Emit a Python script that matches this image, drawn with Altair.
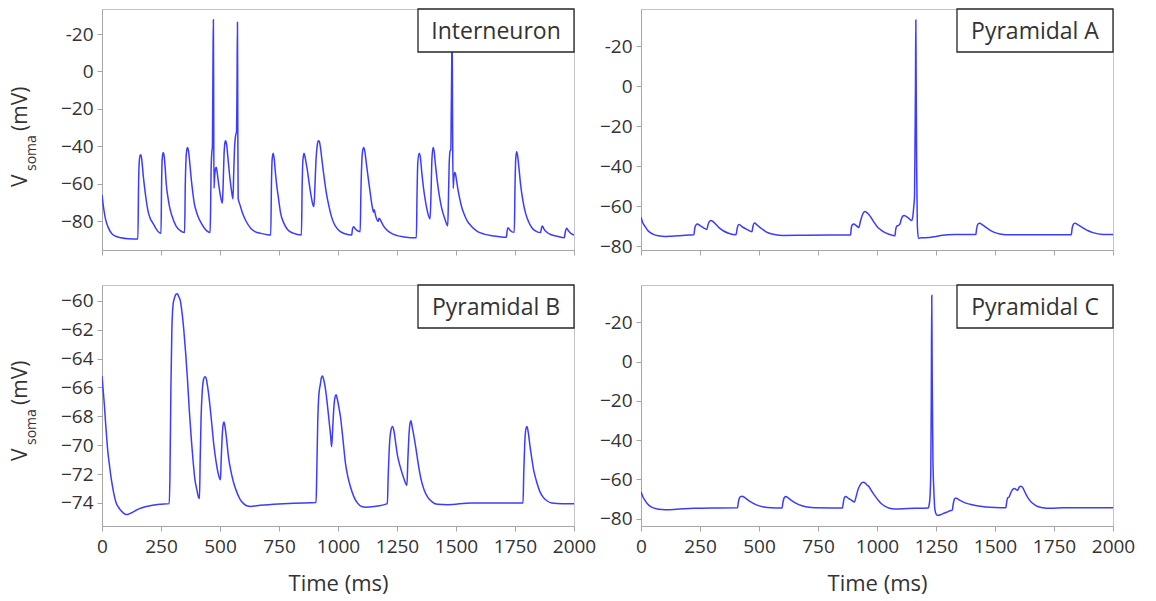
import altair as alt
import pandas as pd

FONT = "Open Sans"
TXT = "#333333"
LINE = "#3c3cff"
AX = "#a6a6a6"

time_ticks = [0, 250, 500, 750, 1000, 1250, 1500, 1750, 2000]
ticks_wide = [-80, -60, -40, -20, 0, 20]
ticks_b = [-74, -72, -70, -68, -66, -64, -62, -60]

panel_names = ["Interneuron", "Pyramidal A", "Pyramidal B", "Pyramidal C"]

inter_pts = [
    (0, -66), (8, -74), (15, -79), (25, -83), (40, -86.5), (55, -88), (80, -89), (110, -89.5), (152, -89.6),
    (155, -60), (158, -48), (162, -44.8), (165, -44.6), (170, -49), (175, -56), (180, -61.6), (187, -68.5),
    (194, -74), (204, -78.5), (215, -81), (226, -83.5), (236, -85.4), (250, -86.6),
    (252.5, -60), (255, -47), (259, -43.4), (263, -45), (268, -52), (272, -59.8), (279, -67), (286, -72.3),
    (297, -77.5), (314, -82.7), (330, -85), (350, -86.2),
    (353, -60), (356, -47), (360, -41.5), (363, -40.7), (367, -43), (372, -49), (377, -56), (384, -64),
    (391, -70.5), (400, -75), (410, -78.5), (420, -81), (435, -84), (458, -86.2),
    (460, -75), (462, -55), (465, -43.8), (468, -40), (470.5, 10), (472, 27.7), (473.3, -20), (474.5, -62.5),
    (477, -57), (480, -52.5), (484, -51.2), (488, -54), (494, -60), (502, -66.5), (510, -70.5), (513, -62),
    (517, -45), (521, -38), (524, -37), (528, -39), (535, -48), (542, -57), (549, -64), (555, -68.2),
    (558, -55), (562, -40), (566, -34.5), (570, -32), (572, -10), (574, 26.3), (575.5, -30), (577, -67.9),
    (585, -71.5), (596, -76), (610, -80), (631, -84), (650, -85.8), (673, -86.6), (700, -87.3), (715, -87.5),
    (718, -60), (721, -47), (725, -43.8), (729, -46), (734, -53), (740, -60.5), (748, -68), (757, -75.9),
    (770, -81), (786, -84.5), (810, -86.5), (845, -87.5),
    (848, -62), (851, -48), (856, -43.8), (860, -45.5), (865, -49), (870, -52.7), (878, -60), (886, -66.5),
    (892, -70.5), (898, -72.3), (902, -62), (907, -47), (912, -39.5), (917, -37), (921, -37.5), (926, -41),
    (933, -48.5), (940, -55.5), (950, -64.5), (962, -72.3), (972, -77.5), (983, -81.3), (995, -83.8),
    (1010, -85.7), (1030, -86.8), (1058, -87.5),
    (1061, -84.5), (1066, -83), (1072, -84), (1080, -85), (1094, -85.7),
    (1097, -65), (1101, -48), (1105, -42), (1109, -40.7), (1114, -43), (1120, -49), (1127, -56), (1135, -63.5),
    (1142, -70), (1147, -73.5), (1150, -75.3), (1153, -74), (1160, -77.5), (1170, -80.2), (1174, -78.5),
    (1180, -79.5), (1190, -82), (1205, -84.5), (1225, -86.5), (1250, -87.8), (1280, -88.5), (1332, -89),
    (1335, -65), (1338, -49), (1344, -43.8), (1349, -46), (1355, -54), (1362, -62), (1370, -69), (1380, -75.5),
    (1390, -78.9), (1394, -66), (1398, -47), (1403, -40.7), (1407, -42.5), (1413, -50), (1420, -58), (1430, -67),
    (1440, -73.5), (1452, -78.5), (1465, -82.5), (1468, -68), (1471, -50), (1475, -42.5), (1478, -42),
    (1480, -20), (1482, 5), (1483, 26), (1484.5, 0), (1486, -40), (1488, -62.5), (1491, -57), (1494, -54),
    (1497, -54.5), (1502, -58), (1508, -63), (1514, -67), (1524, -72.5), (1535, -76.5), (1548, -80),
    (1563, -82.5), (1590, -85.5), (1619, -87), (1660, -88), (1713, -88.7),
    (1717, -85), (1721, -83.6), (1728, -84.8), (1737, -85.8), (1747, -86),
    (1750, -62), (1753, -47), (1757, -42.9), (1761, -45), (1767, -52), (1774, -60.8), (1784, -69.5),
    (1795, -75.9), (1808, -80.5), (1824, -84), (1840, -85.5), (1858, -86.2),
    (1862, -84), (1866, -82.7), (1873, -84.3), (1885, -86), (1901, -87.2), (1930, -88.2), (1959, -88.9),
    (1963, -86), (1969, -83.9), (1976, -85.2), (1988, -86.7), (2000, -87.5),
]

pyr_a_pts = [
    (0, -65.6), (8, -68.5), (17, -70.2), (27, -72), (38, -73.2), (55, -74.3), (74, -74.9), (102, -75.3),
    (130, -75.1), (159, -74.9), (190, -74.6), (224, -74.4),
    (228, -71), (233, -69.5), (239, -69), (250, -69.8), (265, -70.9), (279, -71.7), (285, -69), (291, -67.6),
    (297, -67.3), (305, -67.8), (318, -69.3), (329, -70.7), (350, -72.5), (371, -73.6), (402, -74.4),
    (408, -71), (412, -69.5), (416, -69.3), (430, -70.5), (450, -71.8), (470, -72.9), (474, -70.5),
    (478, -68.8), (482, -68.5), (490, -69.3), (500, -70.3), (513, -71.5), (530, -72.9), (555, -74),
    (598, -74.7), (700, -74.6), (888, -74.5),
    (891, -71), (896, -69.3), (902, -69), (912, -69.8), (923, -70.7), (930, -67.5), (938, -64.5), (945, -63),
    (949, -62.7), (957, -63.3), (966, -64.4), (976, -66), (987, -68.1), (1000, -70.2), (1016, -71.9),
    (1032, -73.2), (1051, -74.1), (1076, -74.9),
    (1079, -72), (1083, -70.2), (1089, -69.8), (1096, -69.3), (1102, -67), (1108, -65.2), (1115, -64.7),
    (1125, -65.3), (1136, -66.3), (1147, -67.3), (1152, -65), (1156, -60), (1159, -55), (1161, -30),
    (1163, 0), (1164.5, 33), (1166, 0), (1168, -40), (1171, -70), (1176, -76.3), (1186, -75.9),
    (1221, -75.8), (1250, -75.2), (1278, -74.6), (1330, -74.3), (1419, -74.2),
    (1422, -71.5), (1427, -69.2), (1432, -68.7), (1436, -68.6), (1445, -69.3), (1462, -70.7), (1480, -72.2),
    (1497, -73.2), (1520, -74), (1547, -74.4), (1823, -74.4),
    (1827, -71), (1832, -69.2), (1836, -68.7), (1840, -68.6), (1850, -69.3), (1873, -70.9), (1895, -72.4),
    (1915, -73.3), (1958, -74.2), (2000, -74.3),
]

pyr_b_pts = [
    (0, -65.2), (5, -66.2), (10, -67.2), (15, -68.4), (20, -69.5), (25, -70.5), (31, -71.3), (38, -72.2),
    (45, -72.9), (52, -73.5), (60, -74), (70, -74.3), (81, -74.55), (92, -74.72), (102, -74.8), (112, -74.78),
    (123, -74.7), (140, -74.55), (159, -74.4), (180, -74.28), (202, -74.2), (244, -74.1), (285, -74.05),
    (288, -72), (292, -66), (296, -62), (301, -60.3), (307, -59.8), (313, -59.55), (319, -59.5), (325, -59.7),
    (332, -60), (339, -60.8), (346, -61.9), (354, -63.5), (362, -65.4), (370, -67.6), (379, -69.7),
    (386, -71.1), (393, -72.3), (402, -73.1), (410, -73.65), (413, -73.7),
    (416, -71), (420, -68), (425, -66.2), (431, -65.4), (436, -65.25), (440, -65.3), (448, -66), (457, -67.2),
    (465, -68.5), (474, -70), (483, -71.1), (493, -72), (502, -72.4),
    (505, -71), (509, -69.5), (513, -68.6), (517, -68.4), (522, -68.8), (528, -69.6), (535, -70.7),
    (545, -71.7), (556, -72.5), (570, -73.2), (585, -73.75), (600, -74.05), (613, -74.2), (630, -74.25),
    (656, -74.2), (727, -74.1), (812, -74.02), (907, -73.98),
    (910, -72), (914, -68.5), (919, -66.5), (925, -65.8), (930, -65.3), (934, -65.2), (940, -65.5),
    (945, -65.9), (950, -66.5), (957, -67.5), (964, -68.6), (969, -69.4), (973, -70.1),
    (977, -69), (982, -67.5), (987, -66.7), (992, -66.5), (997, -66.8), (1004, -67.4), (1011, -68.1),
    (1021, -69.6), (1032, -71.3), (1042, -72.2), (1053, -72.9), (1068, -73.6), (1082, -74), (1100, -74.25),
    (1117, -74.3), (1153, -74.25), (1209, -74.05),
    (1213, -72), (1218, -70), (1224, -69), (1231, -68.7), (1237, -69), (1244, -69.8), (1252, -70.7),
    (1262, -71.4), (1273, -72), (1283, -72.5), (1292, -72.8),
    (1296, -71), (1300, -69.5), (1305, -68.5), (1309, -68.3), (1315, -68.8), (1322, -69.4), (1330, -70.2),
    (1340, -71.3), (1351, -72.3), (1365, -73.1), (1380, -73.6), (1400, -73.95), (1422, -74.1),
    (1465, -74.12), (1564, -74.0), (1640, -74.0), (1784, -74.0),
    (1787, -72), (1791, -70), (1796, -68.9), (1801, -68.7), (1807, -69.2), (1813, -70), (1820, -70.8),
    (1830, -71.8), (1841, -72.5), (1855, -73.2), (1869, -73.6), (1885, -73.85), (1905, -74), (1950, -74.05),
    (2000, -74.05),
]

pyr_c_pts = [
    (0, -66.3), (8, -68.8), (18, -70.8), (28, -72.5), (40, -73.7), (55, -74.6), (68, -75), (90, -75.3),
    (111, -75.4), (150, -75.2), (224, -74.7), (320, -74.5), (409, -74.4),
    (412, -72), (417, -69.5), (422, -68.7), (428, -68.5), (440, -69.3), (452, -70.4), (472, -71.9),
    (494, -73.2), (520, -74), (551, -74.4), (598, -74.5),
    (601, -72), (606, -69.5), (610, -68.9), (613, -68.7), (625, -69.5), (637, -70.6), (658, -72.2),
    (679, -73.3), (705, -74), (736, -74.4), (854, -74.5),
    (857, -72), (861, -69.5), (864, -68.9), (867, -68.7), (880, -69.7), (893, -70.7), (904, -71.5),
    (912, -68.5), (920, -65), (930, -62.5), (936, -61.6), (942, -61.4), (950, -61.9), (957, -62.8),
    (964, -63.4), (978, -66), (992, -68.5), (1006, -70.7), (1020, -72.5), (1035, -73.7), (1049, -74.5),
    (1077, -75), (1130, -74.8), (1217, -74.5),
    (1221, -73), (1225, -68), (1228, -55), (1230, -20), (1232, 33.8), (1234, -10), (1237, -50), (1241, -66),
    (1245, -75), (1250, -77.5), (1258, -78.3), (1268, -78), (1280, -77.4), (1295, -76.7), (1310, -75.9),
    (1319, -75.6),
    (1323, -72.5), (1328, -70), (1333, -69.4), (1340, -69.8), (1350, -70.5), (1362, -71.3), (1380, -72.2),
    (1404, -72.9), (1430, -73.5), (1461, -74), (1500, -74.3), (1546, -74.4),
    (1549, -72), (1553, -69.5), (1560, -68.9), (1566, -67), (1574, -65.2), (1582, -64.6), (1589, -65),
    (1596, -65.6), (1602, -64), (1610, -63.4), (1618, -64.3), (1625, -66), (1632, -67.7), (1642, -69.8),
    (1653, -71.5), (1667, -72.8), (1681, -73.8), (1700, -74.4), (1717, -74.7), (1750, -74.6), (1788, -74.4),
    (1900, -74.4), (2000, -74.4),
]

W, H = 472, 241
BOX_W, BOX_H = 156, 43


def panel(name, pts, domain, ticks, bottom_row, left_col):
    df = pd.DataFrame(pts, columns=["t", "v"])
    x_axis_kw = dict(values=time_ticks, labelFlush=False, tickSize=5, format="d", labelPadding=6)
    if bottom_row:
        x_axis_kw["title"] = "Time (ms)"
    else:
        x_axis_kw["labels"] = False
        x_axis_kw["title"] = ""
    y_axis = alt.Axis(values=ticks, title="", tickSize=5,
                      labelExpr="datum.value == 20 ? '-20' : datum.label")
    line = alt.Chart(df).mark_line(color=LINE, strokeWidth=1.5, interpolate="monotone", clip=True).encode(
        x=alt.X("t:Q", scale=alt.Scale(domain=[0, 2000], nice=False, zero=False), axis=alt.Axis(**x_axis_kw)),
        y=alt.Y("v:Q", scale=alt.Scale(domain=domain, nice=False, zero=False), axis=y_axis),
    )
    one = alt.Data(values=[{"label": name}])
    box = alt.Chart(one).mark_rect(fill="white", stroke="#262626", strokeWidth=1.3).encode(
        x=alt.value(W - BOX_W), x2=alt.value(W), y=alt.value(0), y2=alt.value(BOX_H)
    )
    txt = alt.Chart(one).mark_text(font=FONT, fontSize=23, color=TXT, align="center", baseline="middle").encode(
        x=alt.value(W - BOX_W / 2), y=alt.value(BOX_H / 2 + 1), text="label:N"
    )
    layers = [line, box, txt]
    if left_col:
        ty = 178 if not bottom_row else 176
        base = alt.Chart(alt.Data(values=[{"a": 1}]))
        v = base.mark_text(font=FONT, fontSize=21, color=TXT, angle=270, align="left", baseline="alphabetic").encode(
            x=alt.value(-75), y=alt.value(ty), text=alt.value("V"))
        sub = base.mark_text(font=FONT, fontSize=14, color=TXT, angle=270, align="left", baseline="alphabetic").encode(
            x=alt.value(-66), y=alt.value(ty - 16), text=alt.value("soma"))
        unit = base.mark_text(font=FONT, fontSize=21, color=TXT, angle=270, align="left", baseline="alphabetic").encode(
            x=alt.value(-75), y=alt.value(ty - 56), text=alt.value(" (mV)"))
        layers += [v, sub, unit]
    return alt.layer(*layers).properties(width=W, height=H)


p1 = panel(panel_names[0], inter_pts, [-95.5, 33.4], ticks_wide, False, True)
p2 = panel(panel_names[1], pyr_a_pts, [-82, 38.5], ticks_wide, False, False)
p3 = panel(panel_names[2], pyr_b_pts, [-75.6, -58.9], ticks_b, True, True)
p4 = panel(panel_names[3], pyr_c_pts, [-83.7, 39], ticks_wide, True, False)

chart = alt.concat(p1, p2, p3, p4, columns=2, spacing={"row": 35, "column": 67}, bounds="flush").properties(
    padding={"left": 9, "top": 7, "right": 5, "bottom": 5}, background="white"
).configure_view(stroke="#c4c4c4", strokeWidth=1).configure_axis(
    labelFont=FONT, labelFontSize=19, labelColor=TXT, labelPadding=4,
    titleFont=FONT, titleFontSize=22, titleColor=TXT, titleFontWeight="normal", titlePadding=17,
    domainColor=AX, tickColor=AX, grid=False,
)

chart.save("out.html", embed_options={"renderer": "svg", "actions": False})
